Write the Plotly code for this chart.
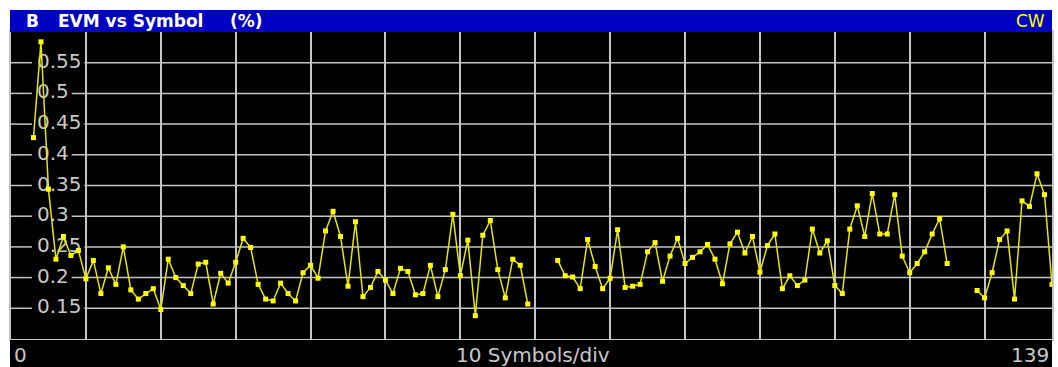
import plotly.graph_objects as go

# ---- data -------------------------------------------------------------
symbols = list(range(140))
evm_pct = [
    None, None, None, 0.428, 0.584, 0.344, 0.230, 0.267, 0.236, 0.244,
    0.198, 0.228, 0.174, 0.216, 0.189, 0.250, 0.180, 0.165, 0.174, 0.182,
    0.148, 0.230, 0.200, 0.187, 0.174, 0.222, 0.225, 0.157, 0.207, 0.191,
    0.225, 0.264, 0.249, 0.189, 0.165, 0.162, 0.191, 0.174, 0.162, 0.208,
    0.220, 0.199, 0.276, 0.308, 0.267, 0.186, 0.291, 0.169, 0.184, 0.210,
    0.196, 0.174, 0.215, 0.210, 0.172, 0.174, 0.220, 0.169, 0.213, 0.303,
    0.203, 0.261, 0.138, 0.269, 0.293, 0.213, 0.167, 0.230, 0.220, 0.157,
    None, None, None, 0.228, 0.203, 0.201, 0.182, 0.262, 0.218, 0.182,
    0.199, 0.278, 0.184, 0.186, 0.189, 0.242, 0.257, 0.194, 0.235, 0.264,
    0.223, 0.233, 0.242, 0.254, 0.230, 0.190, 0.255, 0.274, 0.240, 0.267,
    0.209, 0.252, 0.271, 0.182, 0.203, 0.187, 0.196, 0.279, 0.240, 0.260,
    0.187, 0.174, 0.279, 0.317, 0.267, 0.337, 0.271, 0.271, 0.335, 0.235,
    0.208, 0.223, 0.242, 0.271, 0.296, 0.223, None, None, None, 0.179,
    0.167, 0.208, 0.262, 0.276, 0.165, 0.325, 0.316, 0.369, 0.335, 0.189,
]
y_ticks = [0.15, 0.2, 0.25, 0.3, 0.35, 0.4, 0.45, 0.5, 0.55]
y_tick_labels = ["0.15", "0.2", "0.25", "0.3", "0.35", "0.4", "0.45", "0.5", "0.55"]
x_range = [0, 139]
y_range = [0.1, 0.6]
x_div = 10
title_parts = ["B", "EVM vs Symbol", "(%)"]
mode_label = "CW"
x_start_label = "0"
x_div_label = "10 Symbols/div"
x_end_label = "139"

# ---- geometry / style --------------------------------------------------
W, H = 1058, 367
ML, MR, MT, MB = 11, 4, 32, 28
PW = W - ML - MR
PH = H - MT - MB
GRID = "#c4c4c4"
TXT = "#c8c8c8"
FONT = "DejaVu Sans"
TICK_SIZE = 20


def px_to_x(px):
    return (px - ML) / PW * (x_range[1] - x_range[0]) + x_range[0]


def px_to_paper_x(px):
    return (px - ML) / PW


def px_to_paper_y(py):
    return (H - MB - py) / PH


def label_width(s):
    # approximate advance of DejaVu Sans at TICK_SIZE
    w = 0.0
    for ch in s:
        w += 0.318 if ch == "." else 0.636
    return w * TICK_SIZE


label_left_px = 37
shapes = []
for val, lab in zip(y_ticks, y_tick_labels):
    gap_end = label_left_px + label_width(lab) + 3
    for x0, x1 in ((x_range[0], px_to_x(32)), (px_to_x(gap_end), x_range[1])):
        shapes.append(dict(type="line", xref="x", yref="y", x0=x0, x1=x1,
                           y0=val, y1=val, layer="between",
                           line=dict(color=GRID, width=1.5)))

# title bar and footer bar
shapes.append(dict(type="rect", xref="paper", yref="paper",
                   x0=px_to_paper_x(10), x1=px_to_paper_x(1054),
                   y0=px_to_paper_y(32), y1=px_to_paper_y(10),
                   fillcolor="#0000c4", line=dict(width=0), layer="above"))
shapes.append(dict(type="rect", xref="paper", yref="paper",
                   x0=px_to_paper_x(10), x1=px_to_paper_x(1054),
                   y0=px_to_paper_y(367), y1=px_to_paper_y(340),
                   fillcolor="#000000", line=dict(width=0), layer="above"))

fig = go.Figure()

# value labels sitting inside the plot on each grid line
fig.add_trace(go.Scatter(
    x=[px_to_x(label_left_px)] * len(y_ticks), y=y_ticks, text=y_tick_labels,
    mode="text", textposition="middle right",
    textfont=dict(family=FONT, size=TICK_SIZE, color=TXT),
    hoverinfo="skip", showlegend=False, cliponaxis=False,
))

# EVM trace
fig.add_trace(go.Scatter(
    x=symbols, y=evm_pct, mode="lines+markers",
    line=dict(color="#e6e600", width=1.5),
    marker=dict(symbol="square", size=5, color="#ffff00", line=dict(width=0)),
    connectgaps=False, showlegend=False,
))

ty = px_to_paper_y(21)
by = px_to_paper_y(355)
annotations = [
    dict(text=title_parts[0], x=px_to_paper_x(24), y=ty, xanchor="left"),
    dict(text=title_parts[1], x=px_to_paper_x(56), y=ty, xanchor="left"),
    dict(text=title_parts[2], x=px_to_paper_x(228), y=ty, xanchor="left"),
]
for a in annotations:
    a.update(xref="paper", yref="paper", yanchor="middle", showarrow=False,
             font=dict(family=FONT, size=17, color="#ffffff", weight="bold"))
annotations += [
    dict(text=mode_label, x=px_to_paper_x(1049), y=ty, xanchor="right",
         font=dict(family=FONT, size=17, color="#ffff00")),
    dict(text=x_start_label, x=px_to_paper_x(12), y=by, xanchor="left",
         font=dict(family=FONT, size=TICK_SIZE, color=TXT)),
    dict(text=x_div_label, x=px_to_paper_x(534), y=by, xanchor="center",
         font=dict(family=FONT, size=TICK_SIZE, color=TXT)),
    dict(text=x_end_label, x=px_to_paper_x(1053), y=by, xanchor="right",
         font=dict(family=FONT, size=TICK_SIZE, color=TXT)),
]
for a in annotations[3:]:
    a.update(xref="paper", yref="paper", yanchor="middle", showarrow=False)

fig.update_layout(
    width=W, height=H,
    margin=dict(l=ML, r=MR, t=MT, b=MB, pad=0),
    paper_bgcolor="#ffffff", plot_bgcolor="#000000",
    shapes=shapes, annotations=annotations,
    xaxis=dict(range=x_range, tick0=0, dtick=x_div, showgrid=True,
               gridcolor=GRID, gridwidth=1.5, zeroline=False,
               showticklabels=False, ticks="", showline=True, mirror=True,
               linecolor=GRID, linewidth=1.5, fixedrange=True),
    yaxis=dict(range=y_range, showgrid=False, zeroline=False,
               showticklabels=False, ticks="", showline=True, mirror=True,
               linecolor=GRID, linewidth=1.5, fixedrange=True),
    hovermode=False,
)

fig.write_html("out.html", config={"displayModeBar": False})
